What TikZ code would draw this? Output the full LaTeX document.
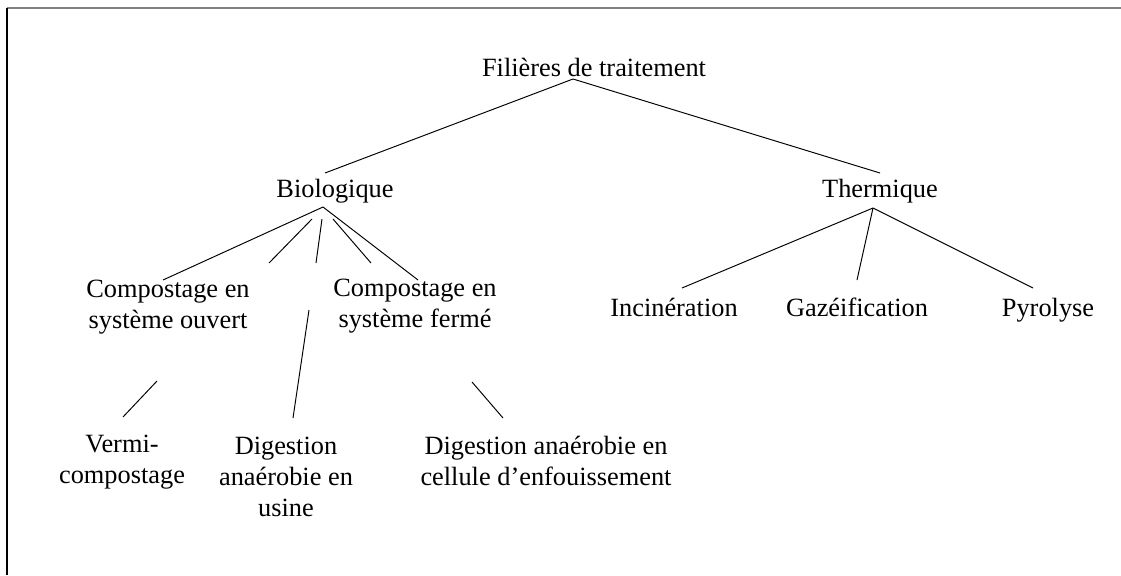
\documentclass[tikz,border=0pt]{standalone}
\usepackage{fontspec}
\setmainfont{Liberation Serif}

\begin{document}
\begin{tikzpicture}[x=0.02cm, y=-0.02cm,
    filiere/.style ={align=center, inner sep=0pt, font=\fontsize{15}{17.5}\selectfont},
    ligne/.style ={filiere, text height=2.1ex, text depth=0.6ex},
    branche/.style ={line width=0.55pt}]
   \useasboundingbox (0,0) rectangle (1121,575);
   \draw[gray, line width=1.1pt] (7,8) -- (1121,8);
   \draw[line width=0.7pt] (7,8) -- (7,575);

   \node[ligne] (R) at (594,70)  {Filières de traitement};
   \node[ligne] (B) at (335,191) {Biologique};
   \node[ligne] (T) at (880,191) {Thermique};
   \node[filiere] (CO) at (168,307) {Compostage en\\système ouvert};
   \node[filiere] (CF) at (415,306) {Compostage en\\système fermé};
   \node[ligne] (I) at (674,310) {Incinération};
   \node[ligne] (G) at (857,310) {Gazéification};
   \node[ligne] (P) at (1048,310) {Pyrolyse};
   \node[filiere] (V) at (122,462) {Vermi-\\compostage};
   \node[filiere] (DU) at (286,477) {Digestion\\anaérobie en\\usine};
   \node[filiere] (DC) at (546,461) {Digestion anaérobie en\\cellule d’enfouissement};

   % points d'attache des traits
   \coordinate (R-s) at (573,79);
   \coordinate (B-n) at (325,173);
   \coordinate (T-n) at (880,173);
   \coordinate (B-s) at (323,207);
   \coordinate (T-s) at (873,208);
   \coordinate (CO-n) at (163,280);
   \coordinate (CF-n) at (418,280);
   \coordinate (a1) at (312,219);
   \coordinate (a2) at (269,263);
   \coordinate (b1) at (322,219);
   \coordinate (b2) at (316,263);
   \coordinate (c1) at (333,219);
   \coordinate (c2) at (371,263);
   \coordinate (DU-a) at (309,310);
   \coordinate (DU-n) at (293,418);
   \coordinate (V-a) at (157,381);
   \coordinate (V-n) at (123,417);
   \coordinate (DC-a) at (472,382);
   \coordinate (DC-n) at (503,418);
   \coordinate (I-n) at (682,288);
   \coordinate (G-n) at (857,280);
   \coordinate (P-n) at (1033,288);

   \draw[branche] (R-s) to (B-n);
   \draw[branche] (R-s) to (T-n);
   \draw[branche] (B-s) to (CO-n);
   \draw[branche] (B-s) to (CF-n);
   \draw[branche] (a1) to (a2);
   \draw[branche] (b1) to (b2);
   \draw[branche] (c1) to (c2);
   \draw[branche] (DU-a) to (DU-n);
   \draw[branche] (V-a) to (V-n);
   \draw[branche] (DC-a) to (DC-n);
   \draw[branche] (T-s) to (I-n);
   \draw[branche] (T-s) to (G-n);
   \draw[branche] (T-s) to (P-n);
\end{tikzpicture}
\end{document}
